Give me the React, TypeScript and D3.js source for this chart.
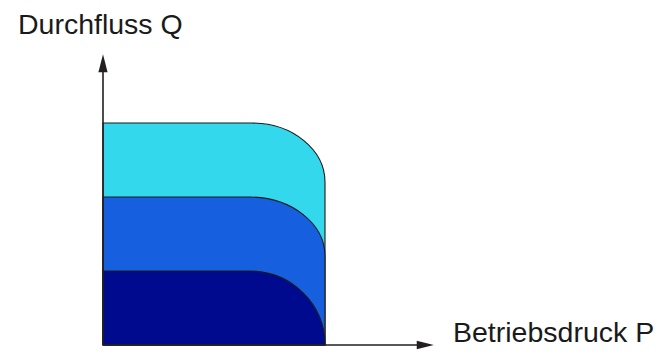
import React from "react";
import * as d3 from "d3";

// Data: three operating stages (largest drawn first)
const stages = ["Stufe 3", "Stufe 2", "Stufe 1"];
const flowLevels = [3, 2, 1]; // Q plateau
const kneePressure = [0.67, 0.66, 0.66]; // P where the plateau starts to fall off
const maxPressure = [1, 1, 1]; // P where the curve becomes vertical
const roundingDrop = [0.8, 0.8, 1.0]; // Q drop over the rounded corner
const fillColors = ["#34d8ec", "#1660e0", "#000a8f"];

const axisTitles = { x: "Betriebsdruck P", y: "Durchfluss Q" };
const xDomain = [0, 1.5];
const yDomain = [0, 4];

const W = 670;
const H = 353;

export default function App() {
  const x = d3.scaleLinear().domain(xDomain).range([103, 436]);
  const y = d3.scaleLinear().domain(yDomain).range([345, 49]);

  const axisColor = "#231f20";
  const x0 = x(0);
  const y0 = y(0);
  const xTip = x(1.49);
  const yTip = y(3.93);

  const shapes = stages.map((s, i) => {
    const q = flowLevels[i];
    const kx = x(kneePressure[i]);
    const mx = x(maxPressure[i]);
    const rx = mx - kx;
    const ry = y(q - roundingDrop[i]) - y(q);
    const d =
      `M${x0},${y0} L${x0},${y(q)} L${kx},${y(q)} ` +
      `A${rx},${ry} 0 0 1 ${mx},${y(q - roundingDrop[i])} L${mx},${y0} Z`;
    return (
      <path
        key={s}
        d={d}
        fill={fillColors[i]}
        stroke="#1a1a1a"
        strokeWidth={1.1}
      />
    );
  });

  return (
    <svg
      width={W}
      height={H}
      style={{ position: "absolute", left: 0, top: 0, display: "block", background: "#fff" }}
      fontFamily="'Liberation Sans', Arial, sans-serif"
    >
      {shapes}
      {/* axes */}
      <line x1={x0} y1={y0} x2={xTip - 16} y2={y0} stroke={axisColor} strokeWidth={1.6} />
      <polygon
        points={`${xTip},${y0} ${xTip - 17},${y0 - 4.2} ${xTip - 17},${y0 + 4.2}`}
        fill={axisColor}
      />
      <line x1={x0} y1={y0} x2={x0} y2={yTip + 16} stroke={axisColor} strokeWidth={1.6} />
      <polygon
        points={`${x0},${yTip} ${x0 - 4.6},${yTip + 18} ${x0 + 4.6},${yTip + 18}`}
        fill={axisColor}
      />
      <text x={18} y={34} fontSize={28.5} fill="#1a1a1a">
        {axisTitles.y}
      </text>
      <text x={453} y={342} fontSize={28.5} fill="#1a1a1a">
        {axisTitles.x}
      </text>
    </svg>
  );
}
